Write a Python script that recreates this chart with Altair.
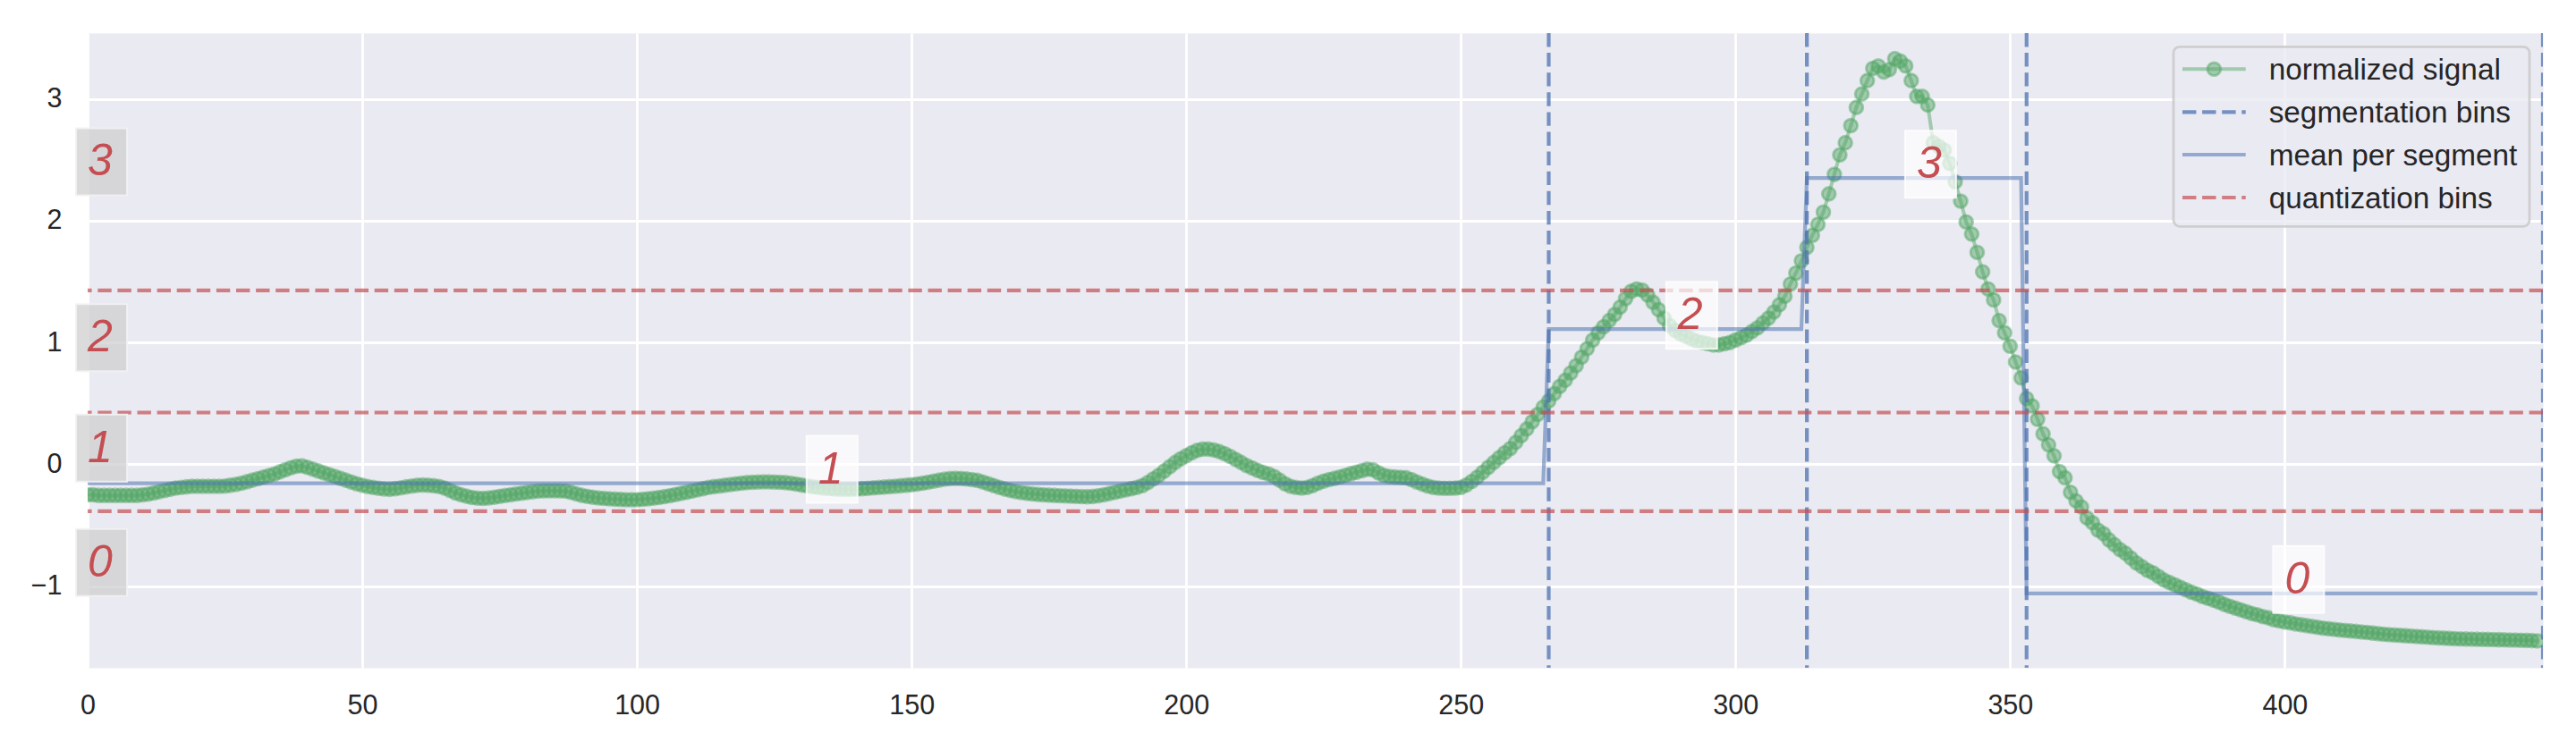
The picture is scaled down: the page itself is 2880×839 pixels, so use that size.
import altair as alt
import pandas as pd

# ---------------- data ----------------
signal = [
    -0.25, -0.25, -0.255, -0.255, -0.255, -0.255, -0.255, -0.255, -0.255, -0.255,
    -0.25, -0.245, -0.235, -0.225, -0.215, -0.205, -0.195, -0.19, -0.185, -0.18,
    -0.18, -0.18, -0.18, -0.18, -0.18, -0.178, -0.172, -0.165, -0.155, -0.143,
    -0.13, -0.118, -0.105, -0.092, -0.08, -0.062, -0.045, -0.028, -0.015, -0.012,
    -0.025, -0.04, -0.055, -0.07, -0.085, -0.1, -0.115, -0.13, -0.145, -0.16,
    -0.172, -0.182, -0.19, -0.197, -0.202, -0.205, -0.2, -0.193, -0.185, -0.178,
    -0.172, -0.17, -0.172, -0.176, -0.182, -0.195, -0.215, -0.235, -0.25, -0.262,
    -0.272, -0.278, -0.28, -0.276, -0.27, -0.263, -0.256, -0.25, -0.243, -0.237,
    -0.231, -0.225, -0.22, -0.218, -0.217, -0.217, -0.218, -0.22, -0.23, -0.243,
    -0.255, -0.263, -0.27, -0.276, -0.28, -0.283, -0.286, -0.288, -0.29, -0.29,
    -0.29, -0.287, -0.283, -0.278, -0.272, -0.265, -0.257, -0.248, -0.239, -0.23,
    -0.22, -0.21, -0.2, -0.19, -0.183, -0.178, -0.172, -0.166, -0.16, -0.155,
    -0.15, -0.147, -0.145, -0.144, -0.144, -0.145, -0.147, -0.15, -0.155, -0.162,
    -0.17, -0.177, -0.184, -0.19, -0.195, -0.199, -0.202, -0.204, -0.205, -0.205,
    -0.203, -0.2, -0.197, -0.193, -0.19, -0.187, -0.183, -0.18, -0.176, -0.172,
    -0.168, -0.162, -0.155, -0.147, -0.138, -0.13, -0.122, -0.117, -0.115, -0.116,
    -0.12, -0.125, -0.132, -0.145, -0.16, -0.175, -0.19, -0.203, -0.214, -0.224,
    -0.232, -0.238, -0.243, -0.247, -0.25, -0.253, -0.255, -0.257, -0.259, -0.261,
    -0.263, -0.265, -0.266, -0.264, -0.258, -0.25, -0.24, -0.23, -0.22, -0.21,
    -0.2, -0.19, -0.175, -0.15, -0.12, -0.09, -0.055, -0.02, 0.015, 0.045,
    0.07, 0.095, 0.115, 0.125, 0.125, 0.118, 0.105, 0.088, 0.065, 0.04,
    0.015, -0.01, -0.03, -0.05, -0.067, -0.08, -0.1, -0.13, -0.16, -0.18,
    -0.19, -0.195, -0.19, -0.175, -0.155, -0.138, -0.125, -0.115, -0.103, -0.09,
    -0.077, -0.065, -0.052, -0.04, -0.045, -0.07, -0.09, -0.1, -0.104, -0.107,
    -0.11, -0.125, -0.145, -0.163, -0.178, -0.19, -0.195, -0.197, -0.197, -0.195,
    -0.19, -0.17, -0.14, -0.105, -0.065, -0.025, 0.015, 0.055, 0.095, 0.13,
    0.18, 0.235, 0.29, 0.35, 0.41, 0.47, 0.52, 0.58, 0.64, 0.69,
    0.75, 0.81, 0.88, 0.95, 1.02, 1.08, 1.13, 1.18, 1.23, 1.29,
    1.36, 1.42, 1.44, 1.43, 1.39, 1.33, 1.27, 1.2, 1.14, 1.1,
    1.07, 1.05, 1.03, 1.01, 1.0, 0.99, 0.98, 0.98, 0.99, 1.0,
    1.02, 1.04, 1.06, 1.09, 1.12, 1.16, 1.2, 1.25, 1.31, 1.38,
    1.48, 1.57, 1.67, 1.78, 1.88, 1.97, 2.07, 2.22, 2.38, 2.54,
    2.64, 2.78, 2.93, 3.04, 3.15, 3.25, 3.27, 3.22, 3.24, 3.33,
    3.31, 3.27, 3.15, 3.02, 3.02, 2.95, 2.64, 2.61, 2.58, 2.47,
    2.32, 2.16, 1.99, 1.89, 1.74, 1.58, 1.44, 1.35, 1.18, 1.08,
    0.97, 0.84, 0.71, 0.54, 0.48, 0.37, 0.25, 0.16, 0.07, -0.06,
    -0.11, -0.23, -0.3, -0.35, -0.44, -0.48, -0.54, -0.57, -0.62, -0.66,
    -0.7, -0.73, -0.77, -0.81, -0.84, -0.87, -0.89, -0.92, -0.95, -0.97,
    -0.99, -1.01, -1.03, -1.05, -1.065, -1.085, -1.1, -1.115, -1.13, -1.15,
    -1.165, -1.18, -1.195, -1.21, -1.225, -1.235, -1.25, -1.26, -1.275, -1.285,
    -1.295, -1.3, -1.31, -1.317, -1.324, -1.331, -1.338, -1.345, -1.35, -1.355,
    -1.36, -1.364, -1.368, -1.372, -1.376, -1.38, -1.385, -1.39, -1.395, -1.398,
    -1.401, -1.404, -1.407, -1.41, -1.413, -1.416, -1.419, -1.422, -1.425, -1.427,
    -1.429, -1.431, -1.433, -1.434, -1.435, -1.436, -1.437, -1.438, -1.439, -1.44,
    -1.441, -1.442, -1.443, -1.444, -1.445, -1.447, -1.45,
]

seg_edges = [266, 313, 353, 447]
seg_label_t = [133, 289.5, 333, 400]
seg_means = [-0.155, 1.11, 2.35, -1.06]
seg_symbols = ["1", "2", "3", "0"]

mean_t = [0, 265, 266, 312, 313, 352, 353, 446]
mean_v = [-0.155, -0.155, 1.11, 1.11, 2.35, 2.35, -1.06, -1.06]

quant_edges = [-0.385, 0.425, 1.427]
quant_label_t = [0, 0, 0, 0]
quant_label_v = [-0.92, 0.02, 0.925, 2.37]
quant_symbols = ["0", "1", "2", "3"]

legend_labels = ["normalized signal", "segmentation bins", "mean per segment", "quantization bins"]
x_ticks = [0, 50, 100, 150, 200, 250, 300, 350, 400]
y_ticks = [-1, 0, 1, 2, 3]
x_domain = [0, 447]
y_domain = [-1.67, 3.54]

# ---------------- styling ----------------
GREEN, BLUE, RED = "#55A868", "#4C72B0", "#C44E52"
FONT = "Liberation Sans"
W, H = 2745, 710
DASH = [15.4, 6.7]

xs = alt.Scale(domain=x_domain, nice=False, zero=False)
ys = alt.Scale(domain=y_domain, nice=False, zero=False)
xaxis = alt.Axis(values=x_ticks, title=None, labelFlush=False, format="d")
yaxis = alt.Axis(values=y_ticks, title=None, format="d")


def X():
    return alt.X("t:Q", scale=xs, axis=xaxis)


def Y():
    return alt.Y("v:Q", scale=ys, axis=yaxis)


sig_df = pd.DataFrame({"t": list(range(len(signal))), "v": signal})
mean_df = pd.DataFrame({"t": mean_t, "v": mean_v})
seg_df = pd.DataFrame({"t": seg_edges})
quant_df = pd.DataFrame({"v": quant_edges})
seg_lab_df = pd.DataFrame({"t": seg_label_t, "v": seg_means, "s": seg_symbols})
q_lab_df = pd.DataFrame({"t": quant_label_t, "v": quant_label_v, "s": quant_symbols})

sig_line = alt.Chart(sig_df).mark_line(
    color=GREEN, opacity=0.5, strokeWidth=4, clip=True
).encode(x=X(), y=Y())
sig_pts = alt.Chart(sig_df).mark_point(
    shape="circle", filled=True, size=219, fill=GREEN, fillOpacity=0.5,
    stroke=GREEN, strokeOpacity=0.5, strokeWidth=2.8, opacity=1, clip=True,
).encode(x=X(), y=Y())

seg_rules = alt.Chart(seg_df).mark_rule(
    color=BLUE, opacity=0.75, strokeWidth=4.2, strokeDash=DASH, clip=True
).encode(x=X())
mean_line = alt.Chart(mean_df).mark_line(
    color=BLUE, opacity=0.55, strokeWidth=4.2, clip=True
).encode(x=X(), y=Y())
quant_rules = alt.Chart(quant_df).mark_rule(
    color=RED, opacity=0.7, strokeWidth=4.2, strokeDash=DASH, clip=True
).encode(y=Y())

box_kw = dict(xOffset=-13, x2Offset=44, yOffset=-53, y2Offset=22)
seg_boxes = alt.Chart(seg_lab_df).mark_rect(
    fill="white", fillOpacity=0.7, stroke="white", strokeOpacity=0.8, strokeWidth=2, **box_kw
).encode(x=X(), x2=alt.X2("t"), y=Y(), y2=alt.Y2("v"))
text_kw = dict(align="left", baseline="alphabetic", font=FONT, fontStyle="italic", fontSize=50, color=RED)
seg_text = alt.Chart(seg_lab_df).mark_text(**text_kw).encode(x=X(), y=Y(), text="s:N")

q_boxes = alt.Chart(q_lab_df).mark_rect(
    fill="#cfcfcf", fillOpacity=0.75, stroke="#f2f2f2", strokeOpacity=0.9, strokeWidth=2, **box_kw
).encode(x=X(), x2=alt.X2("t"), y=Y(), y2=alt.Y2("v"))
q_text = alt.Chart(q_lab_df).mark_text(**text_kw).encode(x=X(), y=Y(), text="s:N")

# ---------------- legend (drawn in pixel space of the plot) ----------------
one = pd.DataFrame({"k": [0]})
leg_layers = [
    alt.Chart(one).mark_rect(
        fill="#EAEAF2", fillOpacity=0.8, stroke="#cccccc", strokeOpacity=0.9,
        strokeWidth=2.8, cornerRadius=7,
    ).encode(x=alt.value(W - 413), x2=alt.value(W - 15), y=alt.value(15.3), y2=alt.value(216.3))
]
row_y = [40.3, 88.3, 136, 184]
line_x0, line_x1, txt_x = W - 403, W - 332.3, W - 306.3
styles = [
    dict(color=GREEN, opacity=0.5, strokeWidth=4),
    dict(color=BLUE, opacity=0.75, strokeWidth=4.2, strokeDash=DASH),
    dict(color=BLUE, opacity=0.55, strokeWidth=4.2),
    dict(color=RED, opacity=0.7, strokeWidth=4.2, strokeDash=DASH),
]
for i, lab in enumerate(legend_labels):
    leg_layers.append(
        alt.Chart(one).mark_rule(**styles[i]).encode(
            x=alt.value(line_x0), x2=alt.value(line_x1), y=alt.value(row_y[i])
        )
    )
    if i == 0:
        leg_layers.append(
            alt.Chart(one).mark_point(
                shape="circle", filled=True, size=219, fill=GREEN, fillOpacity=0.5,
                stroke=GREEN, strokeOpacity=0.5, strokeWidth=2.8, opacity=1,
            ).encode(x=alt.value((line_x0 + line_x1) / 2), y=alt.value(row_y[i]))
        )
    leg_layers.append(
        alt.Chart(pd.DataFrame({"label": [lab]})).mark_text(
            align="left", baseline="middle", font=FONT, fontSize=33.3, color="#262626"
        ).encode(x=alt.value(txt_x), y=alt.value(row_y[i] + 2), text="label:N")
    )

chart = alt.layer(
    sig_line, sig_pts, seg_rules, mean_line, quant_rules,
    seg_boxes, seg_text, q_boxes, q_text, *leg_layers,
).properties(
    width=W, height=H,
    padding={"left": 90, "top": 29, "right": 25, "bottom": 84},
    autosize=alt.AutoSizeParams(type="none"),
    background="white",
).configure_view(
    fill="#EAEAF2", stroke="transparent"
).configure_axis(
    grid=True, gridColor="white", gridWidth=2.8, domain=False, ticks=False, tickSize=0,
    labelFont=FONT, labelFontSize=30.5, labelColor="#262626",
).configure_axisX(labelPadding=27).configure_axisY(labelPadding=29)

chart.save("out.html", embed_options={"renderer": "svg", "actions": False})
